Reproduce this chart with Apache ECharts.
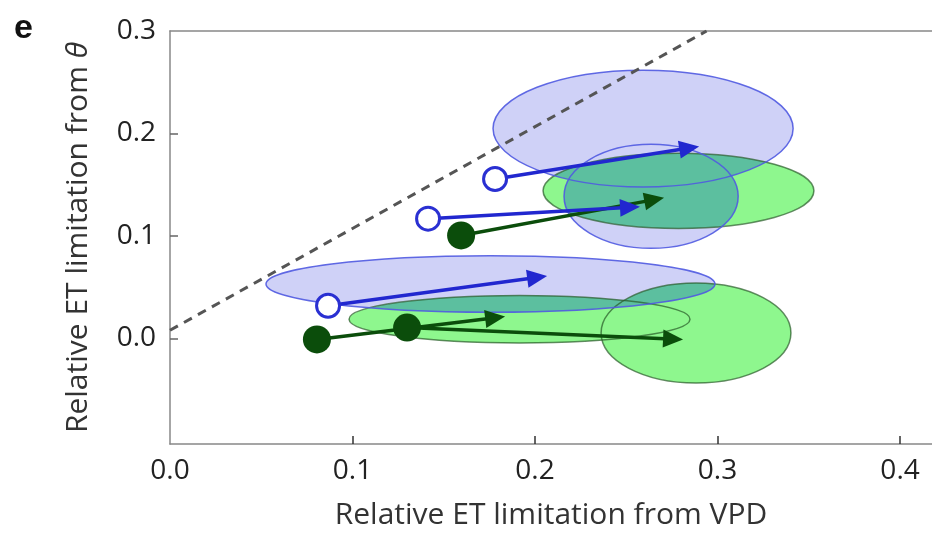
<!DOCTYPE html>
<html>
<head>
<meta charset="utf-8">
<script src="https://cdn.jsdelivr.net/npm/echarts@6/dist/echarts.min.js"></script>
<style>
  html, body { margin: 0; padding: 0; background: #fff; }
  #chart { width: 932px; height: 535px; }
</style>
</head>
<body>
<div id="chart"></div>
<script>
// ellipses: [cx, cy, rx, ry] in data units
const greenEllipses = [
  [0.2786, 0.1440, 0.0742, 0.0367],
  [0.1915, 0.0188, 0.0934, 0.0232],
  [0.2882, 0.0053, 0.0520, 0.0488]
];
const blueEllipses = [
  [0.2592, 0.2048, 0.0822, 0.0570],
  [0.2636, 0.1387, 0.0477, 0.0507],
  [0.1756, 0.0531, 0.1230, 0.0275]
];
// arrows: [x start, y start, x end, y end]
const greenArrows = [
  [0.1595, 0.1005, 0.2707, 0.1372],
  [0.0805, -0.0010, 0.1836, 0.0213],
  [0.1299, 0.0106, 0.2811, -0.0010]
];
const blueArrows = [
  [0.1781, 0.1556, 0.2899, 0.1874],
  [0.1414, 0.1169, 0.2575, 0.1285],
  [0.0866, 0.0319, 0.2066, 0.0609]
];
const dashLine = [[0, 0.008], [0.294, 0.3]];
const xTicks = [0, 0.1, 0.2, 0.3, 0.4];
const yTicks = [0, 0.1, 0.2, 0.3];

const font = 'Open Sans';
const blueFill = '#cfd1f7';
const overlapFill = '#5cbf9f';

function ellipseItem(fill, stroke) {
  return function (params, api) {
    const c = api.coord([api.value(0), api.value(1)]);
    const s = api.size([api.value(2), api.value(3)]);
    return {
      type: 'ellipse',
      shape: { cx: c[0], cy: c[1], rx: s[0], ry: s[1] },
      style: { fill: fill, stroke: stroke, lineWidth: stroke ? 1.5 : 0 }
    };
  };
}

function arrowItem(color) {
  return function (params, api) {
    const a = api.coord([api.value(0), api.value(1)]);
    const b = api.coord([api.value(2), api.value(3)]);
    const dx = b[0] - a[0], dy = b[1] - a[1];
    const len = Math.sqrt(dx * dx + dy * dy);
    const ux = dx / len, uy = dy / len;
    const hl = 20, hw = 9;
    const bx = b[0] - ux * hl, by = b[1] - uy * hl;
    return {
      type: 'group',
      children: [
        {
          type: 'line',
          shape: { x1: a[0], y1: a[1], x2: bx + ux * 2, y2: by + uy * 2 },
          style: { stroke: color, lineWidth: 3.5 }
        },
        {
          type: 'polygon',
          shape: { points: [b, [bx - uy * hw, by + ux * hw], [bx + uy * hw, by - ux * hw]] },
          style: { fill: color }
        }
      ]
    };
  };
}

const chart = echarts.init(document.getElementById('chart'));
chart.setOption({
  animation: false,
  grid: { left: 170, right: 0, top: 31, bottom: 87 },
  graphic: [{
    type: 'text', left: 14, top: 12,
    style: { text: 'e', font: 'bold 34px "Liberation Sans"', fill: '#111' }
  }],
  xAxis: [{
    type: 'value', min: 0, max: 0.4175,
    name: 'Relative ET limitation from VPD',
    nameLocation: 'middle', nameGap: 56,
    nameTextStyle: { fontFamily: font, fontSize: 30, color: '#333' },
    axisLine: { onZero: false, lineStyle: { color: '#888', width: 1.5 } },
    axisTick: { inside: true, length: 8, customValues: [0.1, 0.2, 0.3, 0.4], lineStyle: { color: '#333', width: 1.5 } },
    axisLabel: { customValues: xTicks, margin: 13, fontFamily: font, fontSize: 28, color: '#222',
      formatter: v => v.toFixed(1) },
    splitLine: { show: false }
  }, {
    type: 'value', position: 'top', min: 0, max: 0.4175,
    axisLine: { show: true, onZero: false, lineStyle: { color: '#888', width: 1.5 } },
    axisTick: { show: false }, axisLabel: { show: false }, splitLine: { show: false }
  }],
  yAxis: {
    type: 'value', min: -0.103, max: 0.3,
    name: 'Relative ET limitation from {i|θ}',
    nameLocation: 'middle', nameGap: 77, nameRotate: 90,
    nameTextStyle: { fontFamily: font, fontSize: 30, color: '#333',
      rich: { i: { fontFamily: font, fontSize: 30, fontStyle: 'italic', color: '#333' } } },
    axisLine: { onZero: false, lineStyle: { color: '#888', width: 1.5 } },
    axisTick: { inside: true, length: 8, customValues: [0, 0.1, 0.2], lineStyle: { color: '#666', width: 1.5 } },
    axisLabel: { customValues: yTicks, margin: 14, fontFamily: font, fontSize: 28, color: '#222',
      formatter: v => v.toFixed(1) },
    splitLine: { show: false }
  },
  series: [
    {
      type: 'custom', z: 1, data: greenEllipses,
      renderItem: ellipseItem('#8ef78e', null)
    },
    {
      // teal where blue lies on green (source-atop)
      type: 'custom', z: 2, data: blueEllipses,
      renderItem: ellipseItem(overlapFill, null)
    },
    {
      // lavender behind everything else (destination-over)
      type: 'custom', z: 2, data: blueEllipses,
      renderItem: ellipseItem(blueFill, null)
    },
    {
      type: 'custom', z: 2, data: greenEllipses,
      renderItem: ellipseItem('none', 'rgba(40,90,40,0.7)')
    },
    {
      type: 'custom', z: 2, data: blueEllipses,
      renderItem: ellipseItem('none', 'rgba(80,90,225,0.9)')
    },
    {
      type: 'line', z: 3, data: dashLine, symbol: 'none',
      lineStyle: { color: '#555', width: 3, type: [9, 7] }
    },
    {
      type: 'custom', z: 4, data: greenArrows,
      renderItem: arrowItem('#0b4d0b')
    },
    {
      type: 'scatter', z: 5, symbolSize: 28,
      data: greenArrows.map(a => [a[0], a[1]]),
      itemStyle: { color: '#0b4d0b', opacity: 1 }
    },
    {
      type: 'custom', z: 6, data: blueArrows,
      renderItem: arrowItem('#2127cf')
    },
    {
      type: 'scatter', z: 7, symbolSize: 23,
      data: blueArrows.map(a => [a[0], a[1]]),
      itemStyle: { color: '#fff', borderColor: '#2a30d2', borderWidth: 3, opacity: 1 }
    }
  ]
});

const zr = chart.getZr();
zr.storage.getDisplayList(true).forEach(function (el) {
  if (!el.style) return;
  if (el.style.fill === overlapFill) {
    el.style.blend = 'source-atop';
    el.markRedraw();
  } else if (el.style.fill === blueFill) {
    el.style.blend = 'destination-over';
    el.markRedraw();
  }
});
zr.refreshImmediately();
</script>
</body>
</html>
